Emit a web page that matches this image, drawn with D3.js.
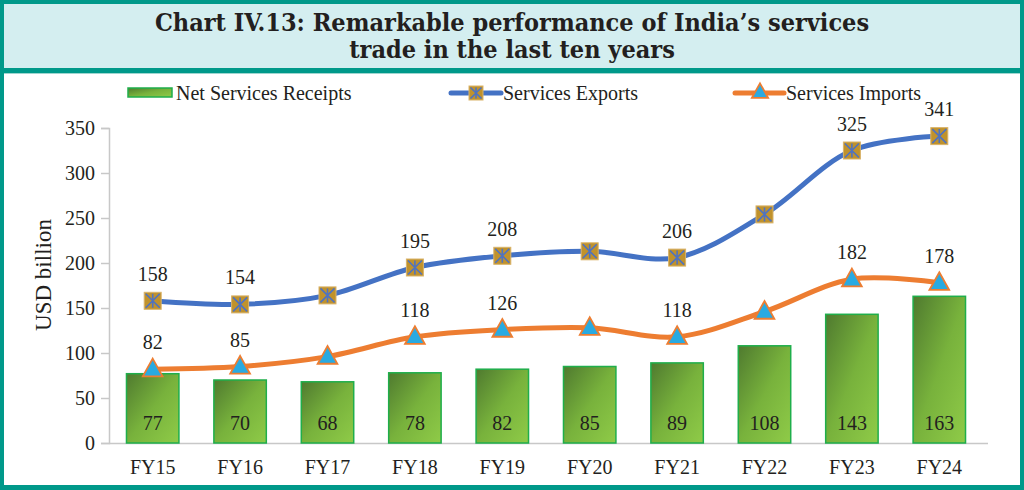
<!DOCTYPE html>
<html><head><meta charset="utf-8">
<script src="https://cdn.jsdelivr.net/npm/d3@7"></script>
<style>body{margin:0;background:#fff}svg{display:block}
svg text{font-family:"Liberation Serif","Tinos","Times New Roman",Times,serif}
svg text.title{font-family:"DejaVu Serif Condensed","DejaVu Serif",serif}
</style>
</head><body>
<svg id="c" width="1024" height="490"></svg>
<script>
const categories = ["FY15","FY16","FY17","FY18","FY19","FY20","FY21","FY22","FY23","FY24"];
const netReceipts = [77,70,68,78,82,85,89,108,143,163];
const exportsVals = [158,154,164,195,208,213,206,254,325,341];
const importsVals = [82,85,96,118,126,128,118,146,182,178];
const exportLabelShown = [true,true,false,true,true,false,true,false,true,true];
const importLabelShown = [true,true,false,true,true,false,true,false,true,true];
const yTicks = [0,50,100,150,200,250,300,350];
const titleLines = ["Chart IV.13: Remarkable performance of India\u2019s services","trade in the last ten years"];

const svg = d3.select("#c");
const teal = "#00998a";
const FS = "20px";

// frame
svg.append("rect").attr("x",0).attr("y",0).attr("width",1024).attr("height",490).attr("fill",teal);
svg.append("rect").attr("x",4).attr("y",4).attr("width",1016).attr("height",64).attr("fill","#d4eef0");
svg.append("rect").attr("x",4).attr("y",73).attr("width",1016).attr("height",412).attr("fill","#fff");
svg.append("line").attr("x1",4).attr("x2",1020).attr("y1",73.5).attr("y2",73.5).attr("stroke","#9fd6d0").attr("stroke-width",1);

const tt = svg.append("text").attr("class","title").attr("text-anchor","middle")
  .style("font-weight","bold").style("font-size","25px").attr("fill","#231f20");
titleLines.forEach((l,i)=>tt.append("tspan").attr("x",512).attr("y",31+i*27).text(l));

const x = d3.scaleBand().domain(categories).range([109,983]).paddingInner(0.4).paddingOuter(0.2);
const y = d3.scaleLinear().domain([0,350]).range([443,128]);

const defs = svg.append("defs");
const g = defs.append("linearGradient").attr("id","bar").attr("x1","0").attr("y1","0").attr("x2","1").attr("y2","1");
g.append("stop").attr("offset","0").attr("stop-color","#4f7a2f");
g.append("stop").attr("offset","0.5").attr("stop-color","#78b23c");
g.append("stop").attr("offset","1").attr("stop-color","#8fcb48");

const ya = svg.append("g").attr("transform","translate(109,0)").call(d3.axisLeft(y).tickValues(yTicks).tickSize(8).tickPadding(6));
ya.attr("font-family",null);
ya.select(".domain").attr("stroke","#c8c8c8").attr("stroke-width",1.5);
ya.selectAll(".tick line").attr("stroke","#c8c8c8").attr("stroke-width",1.5);
ya.selectAll("text").style("font-size",FS).attr("fill","#231f20");

const xa = svg.append("g").attr("transform","translate(0,443)").call(d3.axisBottom(x).tickSize(0).tickPadding(17));
xa.attr("font-family",null);
xa.select(".domain").attr("d","M109,0.5H988").attr("stroke","#c8c8c8").attr("stroke-width",1.5);
xa.selectAll("text").style("font-size",FS).attr("fill","#231f20");

svg.append("text").attr("transform","translate(51,275) rotate(-90)").attr("text-anchor","middle")
  .style("font-size","23px").attr("fill","#231f20").text("USD billion");

svg.selectAll("rect.bar").data(categories).join("rect").attr("class","bar")
  .attr("x",d=>x(d)).attr("width",x.bandwidth())
  .attr("y",(d,i)=>y(netReceipts[i])).attr("height",(d,i)=>y(0)-y(netReceipts[i]))
  .attr("fill","url(#bar)").attr("stroke","#1fae4b").attr("stroke-width",1.5);
svg.selectAll("text.barlab").data(categories).join("text").attr("class","barlab")
  .attr("x",d=>x(d)+x.bandwidth()/2).attr("y",430).attr("text-anchor","middle")
  .style("font-size",FS).attr("fill","#231f20").text((d,i)=>netReceipts[i]);

const cx = d=>x(d)+x.bandwidth()/2;
const line = vals => d3.line().x((d,i)=>cx(categories[i])).y(d=>y(d)).curve(d3.curveCatmullRom.alpha(0.5))(vals);

svg.append("path").attr("d",line(exportsVals)).attr("fill","none").attr("stroke","#4472c4").attr("stroke-width",5);
svg.append("path").attr("d",line(importsVals)).attr("fill","none").attr("stroke","#ed7d31").attr("stroke-width",5);

function starMarker(sel,s){
  sel.append("rect").attr("x",-s/2).attr("y",-s/2).attr("width",s).attr("height",s).attr("fill","#c0922c").attr("stroke","#d9b36a").attr("stroke-width",1);
  const h=s/2-1.5;
  sel.append("path").attr("d",`M${-h},${-h}L${h},${h}M${-h},${h}L${h},${-h}M0,${-h}V${h}`).attr("stroke","#4f73c0").attr("stroke-width",1.6);
}
function triMarker(sel,s){
  sel.append("path").attr("d",`M0,${-s*0.62}L${s*0.58},${s*0.42}L${-s*0.58},${s*0.42}Z`).attr("fill","#29aae1").attr("stroke","#ed7d31").attr("stroke-width",1.8);
}

categories.forEach((c,i)=>{
  const ge = svg.append("g").attr("transform",`translate(${cx(c)},${y(exportsVals[i])})`); starMarker(ge,17);
  const gi = svg.append("g").attr("transform",`translate(${cx(c)},${y(importsVals[i])})`); triMarker(gi,17);
  if(exportLabelShown[i]) svg.append("text").attr("x",cx(c)).attr("y",y(exportsVals[i])-20).attr("text-anchor","middle")
    .style("font-size",FS).attr("fill","#231f20").text(exportsVals[i]);
  if(importLabelShown[i]) svg.append("text").attr("x",cx(c)).attr("y",y(importsVals[i])-20).attr("text-anchor","middle")
    .style("font-size",FS).attr("fill","#231f20").text(importsVals[i]);
});

const lg = svg.append("g");
lg.append("rect").attr("x",128).attr("y",88).attr("width",44).attr("height",9).attr("fill","url(#bar)").attr("stroke","#1fae4b").attr("stroke-width",1.5);
lg.append("text").attr("x",176).attr("y",100).style("font-size",FS).attr("fill","#231f20").text("Net Services Receipts");
lg.append("line").attr("x1",451).attr("x2",501).attr("y1",93).attr("y2",93).attr("stroke","#4472c4").attr("stroke-width",5).attr("stroke-linecap","round");
starMarker(lg.append("g").attr("transform","translate(476,93)"),14);
lg.append("text").attr("x",503).attr("y",100).style("font-size",FS).attr("fill","#231f20").text("Services Exports");
lg.append("line").attr("x1",735).attr("x2",784).attr("y1",93).attr("y2",93).attr("stroke","#ed7d31").attr("stroke-width",5).attr("stroke-linecap","round");
triMarker(lg.append("g").attr("transform","translate(760,92)"),14);
lg.append("text").attr("x",786).attr("y",100).style("font-size",FS).attr("fill","#231f20").text("Services Imports");
</script>
</body></html>
